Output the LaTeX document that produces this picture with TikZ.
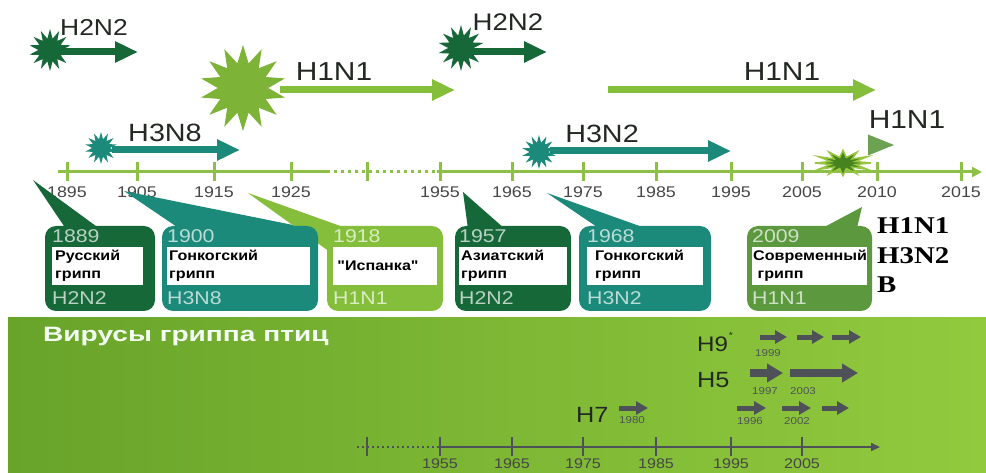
\documentclass[tikz,border=0pt]{standalone}
\usepackage{fontspec}
\setmainfont{Liberation Sans}[FakeStretch=1.15]
\newfontfamily\plainsans{Liberation Sans}[FakeStretch=1.15, Ligatures=TeXOff]
\newfontfamily\widesans{Liberation Sans}[FakeStretch=1.35]
\newfontfamily\serifb{Liberation Serif}[FakeStretch=1.2]
\usetikzlibrary{arrows.meta,shapes.geometric,fit}
\definecolor{dkgreen}{RGB}{22,104,56}
\definecolor{myteal}{RGB}{28,138,122}
\definecolor{ltgreen}{RGB}{132,190,58}
\definecolor{midgreen}{RGB}{92,152,62}
\definecolor{axisgreen}{RGB}{140,192,70}
\definecolor{greyarr}{RGB}{78,82,88}
\definecolor{bandL}{RGB}{104,164,42}
\definecolor{bandR}{RGB}{146,202,62}
\definecolor{txtgrey}{RGB}{70,70,70}
\definecolor{starolive}{RGB}{70,130,30}
\definecolor{labdark}{RGB}{35,40,35}
\tikzset{
  fs/.style={font=\fontsize{#1}{#1}\selectfont},
  lbl/.style={inner sep=0pt, text=labdark, fs=#1},
  tick/.style={line width=3pt, axisgreen},
  burst/.style={star, star points=14, star point ratio=1.8, inner sep=0pt, minimum size=#1},
  fat/.style={line width=7pt, -{Triangle[length=23pt,width=20pt]}},
  garr/.style={greyarr, line width=5pt, -{Triangle[length=12pt,width=13pt]}},
  gbig/.style={greyarr, line width=8pt, -{Triangle[length=16pt,width=18pt]}},
  boxtxt/.style={inner sep=0pt, anchor=west, align=left, font=\plainsans\bfseries\fontsize{14}{18}\selectfont},
}
% #1 name, #2 left, #3 right, #4 colour, #5 white left, #6 white right, #7 year, #8 subtype
\newcommand\flubox[8]{%
  \node[fit={(#2,226) (#3,311)}, inner sep=0pt, fill=#4, rounded corners=11pt] (#1) {};
  \node[fit={(#5,247) (#6,285)}, inner sep=0pt, fill=white] (#1w) {};
  \node[inner sep=0pt, anchor=west, text=white!70!#4, fs=18.5] (#1y) at (#5,236) {#7};
  \node[inner sep=0pt, anchor=west, text=white!70!#4, fs=18.5] (#1s) at (#5,298) {#8};
}
\begin{document}
\begin{tikzpicture}[x=1pt,y=-1pt]
\useasboundingbox (0,0) rectangle (986,473);
\fill[white] (0,0) rectangle (986,473);

% ---------- upper timeline ----------
\draw[axisgreen, line width=3pt] (58,172) -- (327,172);
\draw[axisgreen, line width=3pt, dash pattern=on 3pt off 4pt] (327,172) -- (437,172);
\draw[axisgreen, line width=3pt, -{Triangle[length=10pt,width=10pt]}] (437,172) -- (982,172);
\foreach \x in {67,137,214,291,367,440,512,583,656,731,802,877,961}
  \draw[tick] (\x,162) -- (\x,181);
\foreach \x/\t in {67/1895,137/1905,214/1915,291/1925,440/1955,512/1965,583/1975,656/1985,731/1995,802/2005,877/2010,961/2015}
  \node[inner sep=0pt, text=txtgrey, fs=15.5] (y\t) at (\x,192) {\t};

% ---------- bursts and arrows ----------
\node[burst=42pt, fill=dkgreen] (s1) at (50,50) {};
\coordinate (a1e) at (138,52);
\draw[dkgreen, fat] (s1.center) ++(12,2) -- (a1e);
\node[lbl=23] (l1) at (94,27) {H2N2};

\node[burst=86pt, star point ratio=1.7, fill=ltgreen!95!black] (s2) at (243,88) {};
\coordinate (a2e) at (455,90);
\draw[ltgreen, fat] (280,90) -- (a2e);
\node[lbl=26] (l2) at (334,72) {H1N1};

\node[burst=32pt, fill=myteal] (s3) at (101,148) {};
\coordinate (a3e) at (240,150);
\draw[myteal, fat] (112,150) -- (a3e);
\node[lbl=25] (l3) at (165,133) {H3N8};

\node[burst=46pt, fill=dkgreen] (s4) at (461,48) {};
\coordinate (a4e) at (547,52);
\draw[dkgreen, fat] (472,52) -- (a4e);
\node[lbl=24] (l4) at (508,22) {H2N2};

\coordinate (a5s) at (608,90);
\coordinate (a5e) at (876,90);
\draw[ltgreen, fat] (a5s) -- (a5e);
\node[lbl=26] (l5) at (782,72) {H1N1};

\node[burst=34pt, fill=myteal] (s6) at (539,152) {};
\coordinate (a6e) at (731,151);
\draw[myteal, fat] (550,151) -- (a6e);
\node[lbl=25] (l6) at (602,134) {H3N2};

\coordinate (a7s) at (868,145);
\coordinate (a7e) at (894,145);
\draw[midgreen!90!white, line width=0pt, -{Triangle[length=26pt,width=21pt]}] (a7s) -- (a7e);
\node[lbl=26] (l7) at (907,120) {H1N1};

\node[star, star points=12, star point ratio=2.2, inner sep=0pt, minimum size=56pt, yscale=0.45,
      fill=starolive, draw=axisgreen!90!yellow, line width=1.5pt] (s8) at (843,163) {};

% ---------- callout tails ----------
\fill[dkgreen] (33,180) -- (100,229) -- (66,229) -- cycle;
\fill[myteal] (124,191) -- (313,229) -- (180,229) -- cycle;
\fill[ltgreen] (248,193) -- (346,228) -- (330,252) -- cycle;
\fill[dkgreen] (463,192) -- (505,229) -- (468,229) -- cycle;
\fill[myteal] (547,193) -- (648,229) -- (600,229) -- cycle;
\fill[midgreen] (862,207) -- (856,232) -- (815,232) -- cycle;

% ---------- boxes ----------
\flubox{b1}{45}{155}{dkgreen}{52}{143}{1889}{H2N2}
\flubox{b2}{162}{318}{myteal}{167}{310}{1900}{H3N8}
\flubox{b3}{327}{443}{ltgreen}{333}{437}{1918}{H1N1}
\flubox{b4}{455}{571}{dkgreen}{459}{567}{1957}{H2N2}
\flubox{b5}{579}{711}{myteal}{587}{703}{1968}{H3N2}
\flubox{b6}{747}{872}{midgreen}{752}{867}{2009}{H1N1}
\node[boxtxt] (t1) at (55,266) {Русский\\грипп};
\node[boxtxt] (t2) at (169,266) {Гонкогский\\грипп};
\node[boxtxt, anchor=center] (t3) at (378,266) {"Испанка"};
\node[boxtxt] (t4) at (461,266) {Азиатский\\грипп};
\node[boxtxt] (t5) at (595,266) {Гонкогский\\грипп};
\node[boxtxt] (t6) at (753,266) {Современный\\\ грипп};

\node[inner sep=0pt, anchor=west, font=\serifb\bfseries\fontsize{24}{24}\selectfont] (r1) at (877,226) {H1N1};
\node[inner sep=0pt, anchor=west, font=\serifb\bfseries\fontsize{24}{24}\selectfont] (r2) at (877,256) {H3N2};
\node[inner sep=0pt, anchor=west, font=\serifb\bfseries\fontsize{24}{24}\selectfont] (r3) at (877,285) {B};

% ---------- avian band ----------
\shade[left color=bandL, right color=bandR] (8,318) rectangle (986,473);
\node[inner sep=0pt, anchor=west, text=white!95!green, font=\widesans\bfseries\fontsize{20.8}{21}\selectfont] (title) at (43,337) {Вирусы гриппа птиц};

\draw[greyarr, line width=2pt, dash pattern=on 2pt off 3pt] (357,447) -- (440,447);
\draw[greyarr, line width=2pt, -{Triangle[length=9pt,width=8pt]}] (440,447) -- (880,447);
\foreach \x in {367,440,512,583,656,731,802}
  \draw[greyarr, line width=2pt] (\x,437) -- (\x,456);
\foreach \x/\t in {440/1955,512/1965,583/1975,656/1985,731/1995,802/2005}
  \node[inner sep=0pt, text=txtgrey, fs=14] (z\t) at (\x,464) {\t};

\node[lbl=21, anchor=west] (h9) at (697,344) {H9};
\node[inner sep=0pt, text=labdark, fs=9] (h9s) at (731,335) {*};
\node[lbl=22, anchor=west] (h5) at (697,380) {H5};
\node[lbl=22, anchor=west] (h7) at (576,415) {H7};

\draw[garr] (760,337) -- (787,337);
\draw[garr] (797,337) -- (824,337);
\draw[garr] (832,337) -- (861,337);
\draw[gbig] (750,373) -- (783,373);
\draw[gbig] (790,373) -- (858,373);
\draw[garr] (619,408) -- (648,408);
\draw[garr] (737,408) -- (766,408);
\draw[garr] (782,408) -- (811,408);
\draw[garr] (822,408) -- (849,408);

\foreach \x/\y/\t in {768/353/1999,765/391/1997,803/391/2003,632/420/1980,750/421/1996,797/421/2002}
  \node[inner sep=0pt, text=greyarr, fs=10] at (\x,\y) {\t};
\end{tikzpicture}
\end{document}
